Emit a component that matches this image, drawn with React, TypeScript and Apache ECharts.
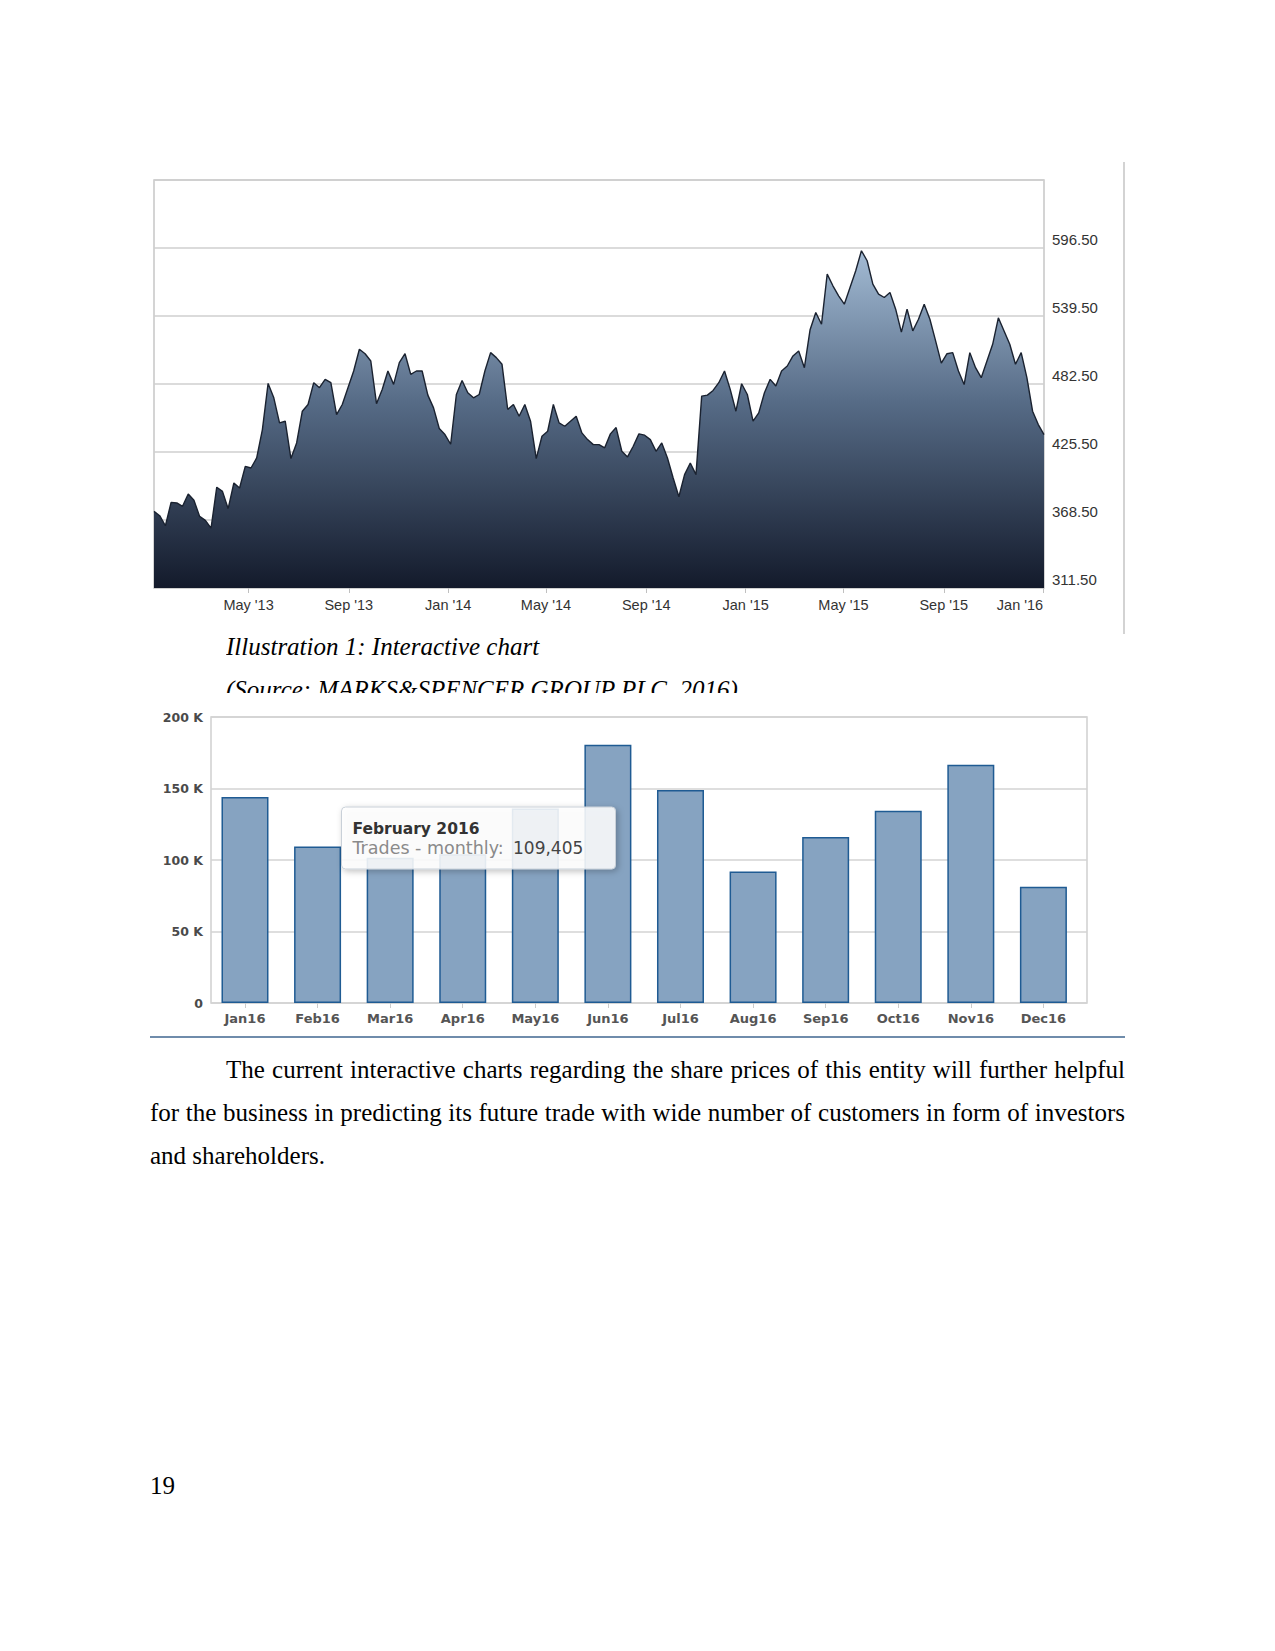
import React, { useEffect, useRef } from 'react';
import * as echarts from 'echarts';

// ---- Share price (weekly closes) ----
const priceStart = Date.UTC(2013, 0, 5);
const priceStepDays = 7;
const priceValues = [
  375.7, 372.1, 363.7, 383.3, 382.8, 380.0, 390.3, 385.0, 371.5, 368.2,
  361.7, 396.0, 392.5, 378.0, 399.5, 395.3, 413.5, 412.1, 420.5, 444.3,
  483.0, 470.9, 449.9, 451.3, 420.0, 433.1, 459.7, 465.3, 483.6, 479.4,
  486.4, 483.6, 456.9, 465.3, 479.4, 493.4, 511.6, 507.9, 501.8, 466.0,
  477.9, 493.4, 482.2, 500.4, 507.9, 490.6, 493.4, 493.4, 473.2, 462.5,
  445.2, 440.1, 432.0, 473.7, 485.5, 475.2, 470.9, 473.7, 493.4, 508.8,
  504.6, 499.0, 461.1, 465.3, 455.5, 465.3, 451.3, 420.0, 438.7, 442.9,
  465.3, 449.9, 447.1, 451.3, 455.5, 441.5, 435.9, 431.7, 431.7, 429.0,
  440.7, 446.0, 426.1, 421.4, 430.3, 440.7, 439.6, 435.9, 426.1, 433.1,
  420.5, 403.7, 388.0, 406.5, 416.3, 406.5, 472.3, 473.2, 477.1, 483.6,
  493.4, 478.0, 459.7, 482.7, 473.7, 451.3, 458.3, 475.2, 486.4, 480.8,
  493.4, 497.6, 506.0, 510.2, 496.2, 528.0, 542.4, 532.6, 574.6, 564.8,
  556.4, 549.4, 563.4, 577.4, 594.2, 585.8, 566.2, 557.8, 555.0, 559.2,
  545.2, 526.0, 545.2, 527.0, 536.8, 549.4, 536.8, 518.6, 500.0, 507.9,
  508.8, 493.4, 482.0, 508.8, 496.2, 487.8, 501.8, 515.8, 538.0, 527.0,
  515.8, 499.0, 508.8, 487.8, 459.7, 448.5, 440.0,
];
const priceTickDates = [
  Date.UTC(2013, 4, 1), Date.UTC(2013, 8, 1), Date.UTC(2014, 0, 1),
  Date.UTC(2014, 4, 1), Date.UTC(2014, 8, 1), Date.UTC(2015, 0, 1),
  Date.UTC(2015, 4, 1), Date.UTC(2015, 8, 1), Date.UTC(2016, 0, 1),
];
const priceTickLabels = [
  "May '13", "Sep '13", "Jan '14", "May '14", "Sep '14",
  "Jan '15", "May '15", "Sep '15", "Jan '16",
];
const priceAxisMin = 311.5;
const priceAxisMax = 653.5;
const priceAxisStep = 57;

// ---- Monthly trades ----
const tradeMonths = ['Jan16', 'Feb16', 'Mar16', 'Apr16', 'May16', 'Jun16', 'Jul16', 'Aug16', 'Sep16', 'Oct16', 'Nov16', 'Dec16'];
const tradeValues = [144000, 109405, 101600, 104000, 136000, 180600, 149000, 92000, 116000, 134500, 166600, 81300];
const tradeAxisMax = 200000;
const tradeAxisStep = 50000;

const tooltipTitle = 'February 2016';
const tooltipLabel = 'Trades - monthly:';
const tooltipValue = '109,405';

const captionText = 'Illustration 1: Interactive chart';
const sourceText = '(Source: MARKS&SPENCER GROUP PLC, 2016)';
const bodyText =
  'The current interactive charts regarding the share prices of this entity will further helpful for the business in predicting its future trade with wide number of customers in form of investors and shareholders.';
const pageNumber = '19';

export default function App() {
  const ref = useRef<HTMLDivElement>(null);

  useEffect(() => {
    if (!ref.current) return;
    const chart = echarts.init(ref.current, undefined, { renderer: 'svg' });
    const DAY = 86400000;
    const priceData = priceValues.map((v, i) => [priceStart + i * priceStepDays * DAY, v]);
    const priceEnd = priceStart + (priceValues.length - 1) * priceStepDays * DAY;
    const labelFor = (v: number) => {
      let best = -1;
      let bestD = Infinity;
      priceTickDates.forEach((d, i) => {
        const dd = Math.abs(d - v);
        if (dd < bestD) {
          bestD = dd;
          best = i;
        }
      });
      return best >= 0 && bestD < DAY ? priceTickLabels[best] : '';
    };

    const sans = '"Liberation Sans", Arial, sans-serif';
    const deja = '"DejaVu Sans", Verdana, sans-serif';

    chart.setOption({
      animation: false,
      grid: [
        { left: 154, top: 180, width: 890, height: 408, show: true, borderColor: '#c6c6c6', borderWidth: 1.5 },
        { left: 211, top: 717, width: 876, height: 286, show: true, borderColor: '#d0d0d0', borderWidth: 1.5 },
        { left: 208.7, top: 717, width: 871, height: 286, show: false },
      ],
      xAxis: [
        {
          type: 'value',
          gridIndex: 0,
          min: priceStart,
          max: priceEnd,
          axisLine: { show: false },
          splitLine: { show: false },
          axisTick: { show: true, customValues: priceTickDates, length: 5, lineStyle: { color: '#c0c0c0', width: 1 } },
          axisLabel: {
            customValues: priceTickDates,
            formatter: (v: number) => labelFor(v),
            color: '#333',
            fontSize: 14.5,
            fontFamily: sans,
            margin: 9,
            alignMaxLabel: 'right',
          },
        },
        { type: 'value', gridIndex: 1, min: 0, max: 1, show: false },
        {
          type: 'category',
          gridIndex: 2,
          data: tradeMonths,
          axisLine: { show: false },
          axisTick: { show: true, alignWithLabel: true, length: 5, lineStyle: { color: '#cccccc' } },
          axisLabel: { color: '#555', fontSize: 13, fontWeight: 'bold', fontFamily: deja, margin: 9 },
        },
      ],
      yAxis: [
        {
          type: 'value',
          gridIndex: 0,
          position: 'right',
          min: priceAxisMin,
          max: priceAxisMax,
          interval: priceAxisStep,
          axisLine: { show: false },
          axisTick: { show: false },
          splitLine: { lineStyle: { color: '#cfcfcf', width: 1.5 } },
          axisLabel: {
            formatter: (v: number) => (v > 600 ? '' : v.toFixed(2)),
            color: '#333',
            fontSize: 15,
            fontFamily: sans,
            margin: 8,
            verticalAlign: 'bottom',
            lineHeight: 18,
          },
        },
        {
          type: 'value',
          gridIndex: 1,
          min: 0,
          max: tradeAxisMax,
          interval: tradeAxisStep,
          axisLine: { show: false },
          axisTick: { show: false },
          splitLine: { lineStyle: { color: '#d3d3d3', width: 1.5 } },
          axisLabel: {
            formatter: (v: number) => (v === 0 ? '0' : v / 1000 + ' K'),
            color: '#4a4a4a',
            fontSize: 12.5,
            fontWeight: 'bold',
            fontFamily: deja,
            margin: 8,
            padding: [4, 0, 0, 0],
          },
        },
        { type: 'value', gridIndex: 2, min: 0, max: tradeAxisMax, show: false },
      ],
      series: [
        {
          type: 'line',
          xAxisIndex: 0,
          yAxisIndex: 0,
          data: priceData,
          showSymbol: false,
          lineStyle: { color: '#1a2230', width: 1.4 },
          areaStyle: {
            opacity: 1,
            color: new echarts.graphic.LinearGradient(0, 0, 0, 1, [
              { offset: 0, color: '#a3bbd4' },
              { offset: 0.45, color: '#566b86' },
              { offset: 1, color: '#131a2b' },
            ]),
          },
        },
        {
          type: 'bar',
          xAxisIndex: 2,
          yAxisIndex: 2,
          data: tradeValues,
          barWidth: 47,
          itemStyle: { color: '#86a3c1', borderColor: '#1f5b93', borderWidth: 1.5 },
        },
      ],
      graphic: [
        {
          type: 'line',
          z: 100,
          shape: { x1: 1124, y1: 162, x2: 1124, y2: 634 },
          style: { stroke: '#c4c4c4', lineWidth: 1.5 },
        },
        {
          type: 'line',
          z: 100,
          shape: { x1: 150, y1: 1037, x2: 1125, y2: 1037 },
          style: { stroke: '#6f8cab', lineWidth: 2 },
        },
        {
          type: 'group',
          z: 100,
          children: [
            {
              type: 'rect',
              z: 100,
              shape: { x: 341.5, y: 807, width: 274, height: 62, r: 4 },
              style: {
                fill: 'rgba(255,255,255,0.86)',
                stroke: '#c9d0d8',
                lineWidth: 1,
                shadowBlur: 6,
                shadowOffsetX: 2,
                shadowOffsetY: 2,
                shadowColor: 'rgba(0,0,0,0.28)',
              },
            },
            {
              type: 'text',
              z: 101,
              x: 352.5,
              y: 828.5,
              style: { text: tooltipTitle, font: 'bold 15.5px "DejaVu Sans"', fill: '#333', verticalAlign: 'middle' },
            },
            {
              type: 'text',
              z: 101,
              x: 352.5,
              y: 848,
              style: { text: tooltipLabel, font: '17.5px "DejaVu Sans"', fill: '#8a8a8a', verticalAlign: 'middle' },
            },
            {
              type: 'text',
              z: 101,
              x: 513,
              y: 848,
              style: { text: tooltipValue, font: '17px "DejaVu Sans"', fill: '#444', verticalAlign: 'middle' },
            },
          ],
        },
      ],
    });
    return () => chart.dispose();
  }, []);

  const serif = '"Liberation Serif", "Times New Roman", serif';

  return (
    <div style={{ position: 'absolute', left: 0, top: 0, width: 1275, height: 1651, background: '#fff', overflow: 'hidden' }}>
      <div ref={ref} style={{ position: 'absolute', left: 0, top: 0, width: 1275, height: 1651 }} />
      <div
        style={{
          position: 'absolute',
          left: 226,
          top: 625,
          width: 900,
          height: 68,
          overflow: 'hidden',
          fontFamily: serif,
          fontStyle: 'italic',
          fontSize: 25,
          lineHeight: '43px',
          color: '#000',
          whiteSpace: 'nowrap',
        }}
      >
        <div>{captionText}</div>
        <div>{sourceText}</div>
      </div>
      <div
        style={{
          position: 'absolute',
          left: 150,
          top: 1048,
          width: 975,
          fontFamily: serif,
          fontSize: 25,
          lineHeight: '43px',
          color: '#000',
          textAlign: 'justify',
          textIndent: 76,
        }}
      >
        {bodyText}
      </div>
      <div
        style={{
          position: 'absolute',
          left: 150,
          top: 1464,
          fontFamily: serif,
          fontSize: 25,
          lineHeight: '43px',
          color: '#000',
        }}
      >
        {pageNumber}
      </div>
    </div>
  );
}
